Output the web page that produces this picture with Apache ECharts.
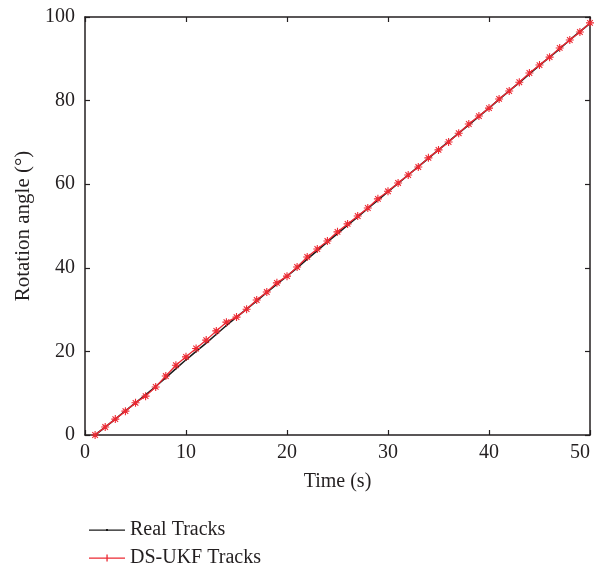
<!DOCTYPE html>
<html><head><meta charset="utf-8">
<script src="https://cdn.jsdelivr.net/npm/echarts@6/dist/echarts.min.js"></script>
<style>html,body{margin:0;padding:0;background:#fff}#c{width:600px;height:570px}</style>
</head><body><div id="c"></div>
<script>
const timeS = [1,2,3,4,5,6,7,8,9,10,11,12,13,14,15,16,17,18,19,20,21,22,23,24,25,26,27,28,29,30,31,32,33,34,35,36,37,38,39,40,41,42,43,44,45,46,47,48,49,50];
const realTracks = [0,1.9,3.8,5.8,7.7,9.6,11.6,13.7,15.9,18.0,20.0,22.0,24.1,26.2,28.2,30.1,32.1,34.1,36.1,38.0,40.0,42.1,44.1,46.2,48.2,50.2,52.2,54.2,56.2,58.2,60.2,62.2,64.2,66.2,68.2,70.2,72.2,74.2,76.2,78.2,80.3,82.3,84.3,86.4,88.4,90.4,92.4,94.5,96.5,98.5];
const dsukfTracks = [0,1.9,3.8,5.7,7.7,9.3,11.5,14.1,16.7,18.7,20.7,22.7,24.9,27.0,28.2,30.1,32.3,34.2,36.4,38.0,40.2,42.6,44.5,46.4,48.6,50.5,52.4,54.3,56.5,58.3,60.3,62.2,64.1,66.3,68.2,70.1,72.2,74.4,76.3,78.2,80.4,82.3,84.4,86.6,88.5,90.4,92.6,94.5,96.4,98.6];
const seriesNames = ['Real Tracks', 'DS-UKF Tracks'];
const xTicks = [0,10,20,30,40,50];
const yTicks = [0,20,40,60,80,100];

const FONT = '"Liberation Serif", "DejaVu Serif", serif';
const TXT = '#231f20';
const BLACK = '#1a1a1a';
const RED = '#ec2a33';
const star = 'path://M0,-10 L0,10 M-10,0 L10,0 M-7,-7 L7,7 M-7,7 L7,-7';
const iconBlack = 'path://M0,4.4 h36 v1.3 h-36 Z M17,4 h2 v2 h-2 Z';
const iconRed = 'path://M0,4.4 h36 v1.3 h-36 Z M17.4,1.5 h1.3 v7 h-1.3 Z';

const chart = echarts.init(document.getElementById('c'), null, {renderer: 'canvas'});
const axisLineStyle = {show: true, onZero: false, lineStyle: {color: '#231f20', width: 1.5}};
const tickStyle = {show: true, inside: true, length: 5, lineStyle: {color: '#231f20', width: 1.2}};
const legendBase = {
  orient: 'vertical', left: 84, itemWidth: 36, itemHeight: 10,
  textStyle: {fontFamily: FONT, fontSize: 20, color: TXT}
};
chart.setOption({
  animation: false,
  backgroundColor: '#fff',
  grid: {left: 85, right: 10, top: 17, bottom: 135, containLabel: false, outerBoundsMode: 'none'},
  legend: [
    Object.assign({}, legendBase, {top: 515, data: [{name: seriesNames[0], icon: iconBlack, itemStyle: {color: BLACK, borderWidth: 0}}]}),
    Object.assign({}, legendBase, {top: 543, data: [{name: seriesNames[1], icon: iconRed, itemStyle: {color: RED, borderWidth: 0}}]})
  ],
  xAxis: [{
    type: 'value', min: xTicks[0], max: xTicks[xTicks.length-1], interval: 10,
    name: 'Time (s)', nameLocation: 'middle', nameGap: 37,
    nameTextStyle: {fontFamily: FONT, fontSize: 20, color: TXT},
    axisLine: axisLineStyle, axisTick: tickStyle, splitLine: {show: false},
    axisLabel: {fontFamily: FONT, fontSize: 20, color: TXT, margin: 8, alignMaxLabel: 'right'}
  }, {
    type: 'value', position: 'top', min: xTicks[0], max: xTicks[xTicks.length-1], interval: 10,
    axisLine: axisLineStyle, axisTick: tickStyle, splitLine: {show: false}, axisLabel: {show: false}
  }],
  yAxis: [{
    type: 'value', min: yTicks[0], max: yTicks[yTicks.length-1], interval: 20,
    name: 'Rotation angle (°)', nameLocation: 'middle', nameGap: 43,
    nameTextStyle: {fontFamily: FONT, fontSize: 21, color: TXT},
    axisLine: axisLineStyle, axisTick: tickStyle, splitLine: {show: false},
    axisLabel: {fontFamily: FONT, fontSize: 20, color: TXT, margin: 10}
  }, {
    type: 'value', position: 'right', min: yTicks[0], max: yTicks[yTicks.length-1], interval: 20,
    axisLine: axisLineStyle, axisTick: tickStyle, splitLine: {show: false}, axisLabel: {show: false}
  }],
  series: [{
    name: seriesNames[0], type: 'line',
    data: timeS.map((t, i) => [t, realTracks[i]]),
    symbol: 'circle', symbolSize: 2, showSymbol: true,
    lineStyle: {color: BLACK, width: 1.6},
    itemStyle: {color: BLACK}
  }, {
    name: seriesNames[1], type: 'line',
    data: timeS.map((t, i) => [t, dsukfTracks[i]]),
    symbol: star, symbolSize: 8, showSymbol: true,
    lineStyle: {color: RED, width: 1.3},
    itemStyle: {color: RED, borderColor: RED, borderWidth: 1.1}
  }]
});
</script>
</body></html>
